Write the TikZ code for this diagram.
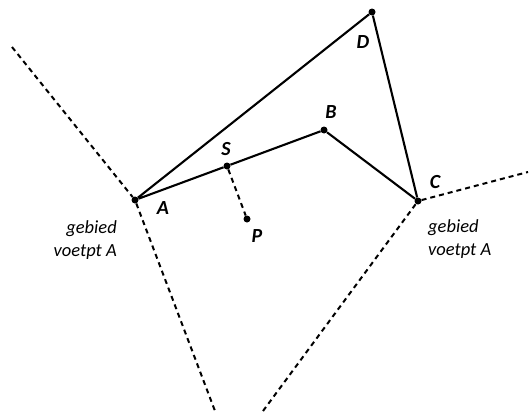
\documentclass[tikz,border=0pt]{standalone}
\usepackage{fontspec}
\setmainfont{Carlito}
\usetikzlibrary{positioning}

\begin{document}
\begin{tikzpicture}[x=1pt, y=-1pt,
    zijde/.style={line width=2.1pt, line join=round},
    grens/.style={line width=2pt, dash pattern=on 5pt off 4pt},
    punt/.style={circle, fill, inner sep=0pt, minimum size=7pt},
    letter/.style={font=\fontsize{20}{24}\selectfont\bfseries\itshape, inner sep=0pt},
    gebied/.style={font=\fontsize{18.5}{23}\selectfont\itshape, inner sep=0pt}]

    \useasboundingbox (0,0) rectangle (532,415);

    % Hoekpunten van de veelhoek en de punten S en P
    \node[punt] (A) at (135,200) {};
    \node[punt] (S) at (227,166) {};
    \node[punt] (B) at (324,130) {};
    \node[punt] (C) at (418,201) {};
    \node[punt] (D) at (372,12) {};
    \node[punt] (P) at (247,219) {};

    % Losse eindpunten van de grenslijnen
    \coordinate (gA1) at (12,47);
    \coordinate (gA2) at (215,411);
    \coordinate (gC1) at (528,172);
    \coordinate (gC2) at (263,411);

    % Zijden
    \draw[zijde] (A) -- (S) -- (B) -- (C) -- (D) -- (A);

    % Loodlijn van P op AB
    \draw[grens] (S) -- (P);

    % Grenzen van de gebieden
    \draw[grens] (gA1) -- (A) -- (gA2);
    \draw[grens] (gC2) -- (C) -- (gC1);

    % Letters
    \node[letter] (lA) at (163,208) {A};
    \node[letter] (lS) at (226,149) {S};
    \node[letter] (lB) at (331,112) {B};
    \node[letter] (lC) at (435,182) {C};
    \node[letter] (lD) at (363,42) {D};
    \node[letter] (lP) at (257,236) {P};

    % Gebieden
    \node[gebied, anchor=north east, align=right] (gebA) at (117,220) {gebied\\voetpt A};
    \node[gebied, anchor=north west, align=left] (gebC) at (428,219) {gebied\\voetpt A};

\end{tikzpicture}
\end{document}
